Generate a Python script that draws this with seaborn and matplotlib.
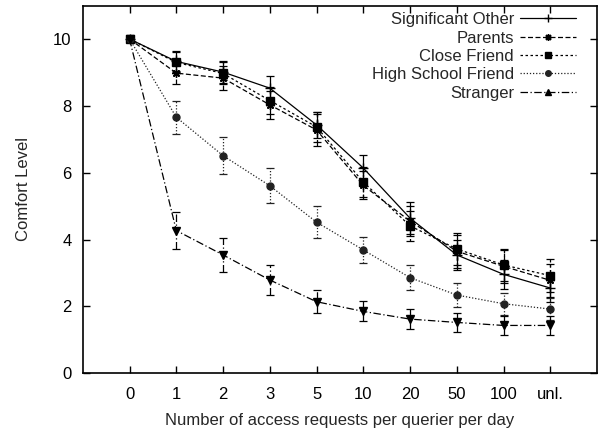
import matplotlib
matplotlib.use("Agg")
import matplotlib.pyplot as plt
from matplotlib.lines import Line2D
import seaborn as sns
import numpy as np

categories = ['0', '1', '2', '3', '5', '10', '20', '50', '100', 'unl.']
significant_other = [10, 9.33, 9.01, 8.53, 7.43, 6.14, 4.64, 3.54, 2.96, 2.55]
significant_other_err = [0, 0.30, 0.32, 0.37, 0.40, 0.40, 0.47, 0.45, 0.43, 0.43]
parents = [10, 8.98, 8.83, 8.03, 7.28, 5.62, 4.55, 3.65, 3.20, 2.78]
parents_err = [0, 0.32, 0.35, 0.42, 0.47, 0.42, 0.45, 0.50, 0.50, 0.50]
close_friend = [10, 9.30, 8.97, 8.16, 7.37, 5.72, 4.41, 3.72, 3.24, 2.92]
close_friend_err = [0, 0.30, 0.33, 0.40, 0.45, 0.45, 0.45, 0.48, 0.48, 0.50]
high_school_friend = [10, 7.66, 6.51, 5.61, 4.52, 3.69, 2.86, 2.34, 2.08, 1.92]
high_school_friend_err = [0, 0.50, 0.55, 0.53, 0.48, 0.40, 0.37, 0.35, 0.33, 0.32]
stranger = [10, 4.27, 3.54, 2.79, 2.14, 1.85, 1.62, 1.52, 1.43, 1.43]
stranger_err = [0, 0.55, 0.50, 0.45, 0.35, 0.30, 0.30, 0.28, 0.28, 0.28]

series = [
    ("Significant Other", significant_other, significant_other_err, '-', '+', '+', 7, 'black'),
    ("Parents", parents, parents_err, (0, (4, 2)), (8, 2, 0), (8, 2, 0), 6, 'black'),
    ("Close Friend", close_friend, close_friend_err, (0, (2, 2)), 's', 's', 6, 'black'),
    ("High School Friend", high_school_friend, high_school_friend_err, (0, (1, 1.5)), 'o', 'o', 5, '#222222'),
    ("Stranger", stranger, stranger_err, (0, (6, 2, 1, 2)), 'v', '^', 6, 'black'),
]

sns.set_style("ticks")
plt.rcParams['font.family'] = ['Liberation Sans', 'DejaVu Sans']

fig = plt.figure(figsize=(6, 4.3), dpi=100)
ax = fig.add_axes([0.138, 0.132, 0.857, 0.855])

x = np.arange(len(categories))
handles = []
for name, vals, errs, ls, mk, lmk, ms, col in series:
    sns.lineplot(x=x, y=vals, ax=ax, color=col, linestyle=ls, linewidth=0.9,
                 marker=mk, markersize=ms, markeredgecolor=col, markerfacecolor=col,
                 markeredgewidth=1.0, legend=False, errorbar=None)
    eb = ax.errorbar(x, vals, yerr=errs, fmt='none', ecolor=col, elinewidth=0.9,
                     capsize=3, capthick=0.9)
    for lc in eb[2]:
        lc.set_linestyle(ls)
    handles.append(Line2D([], [], color=col, linestyle=ls, linewidth=0.9, marker=lmk,
                          markersize=ms - 1, markeredgecolor=col, markerfacecolor=col,
                          label=name))

ax.set_xlim(-1, 10)
ax.set_ylim(0, 11)
ax.set_xticks(x)
ax.set_xticklabels(categories)
ax.set_yticks([0, 2, 4, 6, 8, 10])
ax.tick_params(direction='in', length=5, width=1, top=True, right=True,
               labelsize=12, colors='black')
ax.tick_params(axis='x', pad=10)
ax.tick_params(axis='y', pad=8)
for s in ax.spines.values():
    s.set_visible(True)
    s.set_linewidth(1.2)
    s.set_color('black')
ax.set_xlabel("Number of access requests per querier per day", fontsize=12, labelpad=8)
ax.set_ylabel("Comfort Level", fontsize=12, labelpad=16)

ax.legend(handles=handles, loc='upper right', bbox_to_anchor=(0.96, 0.982),
          markerfirst=False, frameon=False, fontsize=12, handlelength=3.4,
          handletextpad=0.35, labelspacing=0.2, borderpad=0, borderaxespad=0)

fig.savefig("out.png", dpi=100)
